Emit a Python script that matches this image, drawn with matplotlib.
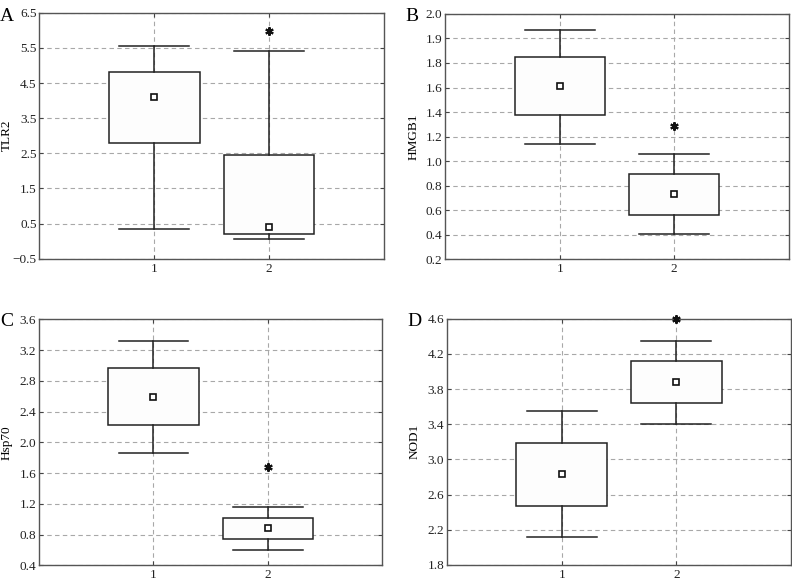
import numpy as np
import matplotlib
matplotlib.use("Agg")
import matplotlib.pyplot as plt

plt.rcParams['font.family'] = ['Liberation Serif', 'DejaVu Serif']

# panel data: (whisker low, q1, q3, whisker high, mean) for groups 1 and 2
letters = ["A", "B", "C", "D"]
ylabels = ["TLR2", "HMGB1", "Hsp70", "NOD1"]

tlr2_low = [0.35, 0.07]
tlr2_q1 = [2.78, 0.19]
tlr2_q3 = [4.80, 2.45]
tlr2_high = [5.55, 5.40]
tlr2_mean = [4.11, 0.41]
tlr2_star = 5.99

# HMGB1 axis is drawn on an evenly spaced scale with its own labels
hmgb1_low = [1.046, 0.383]
hmgb1_q1 = [1.261, 0.528]
hmgb1_q3 = [1.682, 0.826]
hmgb1_high = [1.885, 0.975]
hmgb1_mean = [1.469, 0.682]
hmgb1_star = 1.178

hsp70_low = [1.865, 0.603]
hsp70_q1 = [2.230, 0.747]
hsp70_q3 = [2.963, 1.015]
hsp70_high = [3.314, 1.154]
hsp70_mean = [2.594, 0.885]
hsp70_star = 1.683

nod1_low = [2.114, 3.403]
nod1_q1 = [2.470, 3.641]
nod1_q3 = [3.190, 4.119]
nod1_high = [3.550, 4.350]
nod1_mean = [2.830, 3.884]
nod1_star = 4.60

tlr2_ticks = [-0.5, 0.5, 1.5, 2.5, 3.5, 4.5, 5.5, 6.5]
hmgb1_ticks = list(np.linspace(0.2, 2.0, 11))
hmgb1_ticklabels = ["0.2", "0.4", "0.6", "0.8", "1.0", "1.2", "1.4",
                    "1.6", "1.8", "1.9", "2.0"]
hsp70_ticks = [0.4, 0.8, 1.2, 1.6, 2.0, 2.4, 2.8, 3.2, 3.6]
nod1_ticks = [1.8, 2.2, 2.6, 3.0, 3.4, 3.8, 4.2, 4.6]

panels = [
    (tlr2_low, tlr2_q1, tlr2_q3, tlr2_high, tlr2_mean, tlr2_star,
     tlr2_ticks, None),
    (hmgb1_low, hmgb1_q1, hmgb1_q3, hmgb1_high, hmgb1_mean, hmgb1_star,
     hmgb1_ticks, hmgb1_ticklabels),
    (hsp70_low, hsp70_q1, hsp70_q3, hsp70_high, hsp70_mean, hsp70_star,
     hsp70_ticks, None),
    (nod1_low, nod1_q1, nod1_q3, nod1_high, nod1_mean, nod1_star,
     nod1_ticks, None),
]

rects = [
    [0.0496, 0.554, 0.4352, 0.424],
    [0.5622, 0.553, 0.4336, 0.423],
    [0.0492, 0.0253, 0.4335, 0.4242],
    [0.5644, 0.0259, 0.4343, 0.4246],
]
letter_pos = [(0.0, 0.972), (0.512, 0.972), (0.0, 0.445), (0.514, 0.445)]

fig = plt.figure(figsize=(7.92, 5.8), dpi=100)

for i, (low, q1, q3, high, mean, star, ticks, tlabels) in enumerate(panels):
    ax = fig.add_axes(rects[i])
    stats = []
    for j in range(2):
        stats.append({"whislo": low[j], "q1": q1[j], "med": (q1[j] + q3[j]) / 2,
                      "q3": q3[j], "whishi": high[j], "mean": mean[j],
                      "fliers": []})
    ax.bxp(stats, positions=[1, 2], widths=0.79, showmeans=True,
           patch_artist=True, showcaps=True,
           boxprops=dict(facecolor="#fdfdfd", edgecolor="#222222", linewidth=1.1),
           whiskerprops=dict(color="#222222", linewidth=1.1),
           capprops=dict(color="#222222", linewidth=1.1),
           capwidths=0.61,
           medianprops=dict(visible=False),
           meanprops=dict(marker="s", markerfacecolor="white",
                          markeredgecolor="#111111", markersize=4.5,
                          markeredgewidth=1.2),
           zorder=3)
    ax.plot(2, star, marker=(6, 2, 0), color="#111111", markersize=6,
            markeredgewidth=1.5, clip_on=False, zorder=4)

    ax.set_xlim(0, 3)
    ax.set_ylim(ticks[0], ticks[-1])
    ax.set_xticks([1, 2])
    ax.set_yticks(ticks)
    if tlabels is not None:
        ax.set_yticklabels(tlabels)
    else:
        ax.set_yticklabels(["%.1f" % t if t >= 0 else "\u2212%.1f" % -t for t in ticks])
    ax.grid(True, linestyle=(0, (4, 3)), color="#a8a8a8", linewidth=0.8)
    ax.set_axisbelow(True)
    ax.tick_params(direction="in", length=3, width=0.8, labelsize=9.5,
                   right=True, top=True, colors="#444444", labelcolor="#222222",
                   pad=2)
    ax.tick_params(axis="x", pad=3)
    for s in ax.spines.values():
        s.set_color("#555555")
        s.set_linewidth(1.0)
    ax.set_ylabel(ylabels[i], fontsize=9.5, va="center")
    ax.yaxis.set_label_coords(-0.093, 0.5)
    fig.text(letter_pos[i][0], letter_pos[i][1], letters[i], fontsize=14,
             va="center", ha="left")

plt.savefig("out.png", dpi=100)
